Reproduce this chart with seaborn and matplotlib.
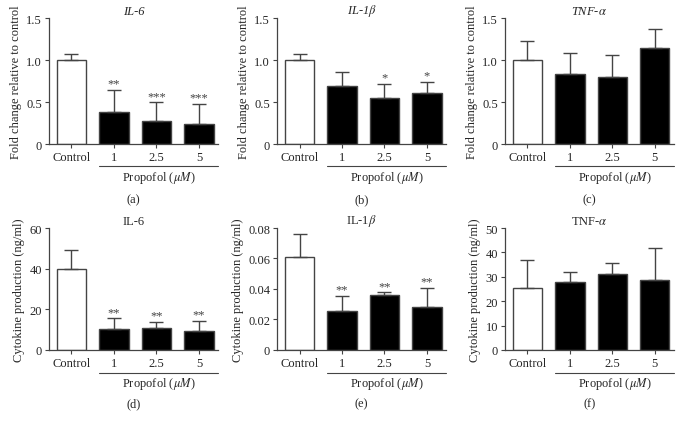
import matplotlib
matplotlib.use("Agg")
import matplotlib.pyplot as plt
import matplotlib.transforms as mtransforms
import numpy as np
import pandas as pd
import seaborn as sns

groups = ["Control", "1", "2.5", "5"]

# top row: fold change relative to control
il6_fold = [1.0, 0.377, 0.27, 0.242]
il6_fold_top = [1.071, 0.643, 0.496, 0.476]
il6_fold_stars = ["", "**", "***", "***"]

il1b_fold = [1.0, 0.686, 0.545, 0.603]
il1b_fold_top = [1.07, 0.853, 0.718, 0.742]
il1b_fold_stars = ["", "", "*", "*"]

tnf_fold = [1.0, 0.833, 0.794, 1.139]
tnf_fold_top = [1.23, 1.083, 1.06, 1.369]
tnf_fold_stars = ["", "", "", ""]

# bottom row: cytokine production (ng/ml)
il6_prod = [39.7, 10.4, 10.7, 9.4]
il6_prod_top = [49.2, 15.6, 13.9, 14.4]
il6_prod_stars = ["", "**", "**", "**"]

il1b_prod = [0.0611, 0.0255, 0.0362, 0.0285]
il1b_prod_top = [0.0758, 0.0354, 0.0378, 0.0406]
il1b_prod_stars = ["", "**", "**", "**"]

tnf_prod = [25.3, 27.9, 31.3, 28.8]
tnf_prod_top = [36.8, 32.1, 35.7, 41.6]
tnf_prod_stars = ["", "", "", ""]

sns.set_style("ticks")
plt.rcParams["font.family"] = ["Liberation Serif", "DejaVu Serif"]
plt.rcParams["mathtext.fontset"] = "stix"

GREY = "#444444"


def panel(ax, vals, tops, stars, title, ylabel, ymax, yticks, yticklabels,
          letter, lab_off, italic):
    df = pd.DataFrame({"group": groups, "value": vals})
    sns.barplot(data=df, x="group", y="value", hue="group",
                palette=["white", "black", "black", "black"], legend=False,
                edgecolor=GREY, linewidth=1.0, width=0.69, ax=ax)
    x = np.arange(len(groups))
    up = np.array(tops) - np.array(vals)
    ax.errorbar(x, vals, yerr=[np.zeros(len(vals)), up], fmt="none",
                ecolor=GREY, elinewidth=1.0, capsize=5, capthick=1.0)
    for xi, t, s in zip(x, tops, stars):
        if s:
            ax.text(xi, t + ymax * 0.003, s, ha="center", va="bottom",
                    fontsize=9, color=GREY)
    ax.set_xlim(-0.53, 3.45)
    ax.set_ylim(0, ymax)
    ax.set_yticks(yticks)
    ax.set_yticklabels(yticklabels)
    ax.set_xlabel("")
    ax.set_ylabel(ylabel, fontsize=9, labelpad=3)
    ax.set_title(title, fontsize=9, pad=3,
                 fontstyle="italic" if italic else "normal")
    ax.tick_params(labelsize=9, length=3, width=0.8, color=GREY, pad=2)
    for side in ["left", "bottom"]:
        ax.spines[side].set_color(GREY)
        ax.spines[side].set_linewidth(0.9)
    sns.despine(ax=ax)
    tr = mtransforms.blended_transform_factory(ax.transData, ax.transAxes)
    ax.plot([0.65, 3.45], [lab_off[0], lab_off[0]], color=GREY, lw=0.8,
            transform=tr, clip_on=False)
    ax.text(2.05, lab_off[1], "Propofol ($\\mu M$)", ha="center", va="center",
            fontsize=9, transform=tr)
    ax.text(0.5, lab_off[2], letter, ha="center", va="center", fontsize=9,
            transform=ax.transAxes)


fig = plt.figure(figsize=(6.86, 4.27), dpi=100)
lefts = [0.0714, 0.4038, 0.736]
w = 0.2464
top_axes = [fig.add_axes([l, 0.6604, w, 0.2951]) for l in lefts]
bot_axes = [fig.add_axes([l, 0.178, w, 0.2857]) for l in lefts]

fold_label = "Fold change relative to control"
prod_label = "Cytokine production (ng/ml)"
t_off = (-0.175, -0.26, -0.44)
b_off = (-0.19, -0.27, -0.44)
ft = [0, 0.5, 1.0, 1.5]
fl = ["0", "0.5", "1.0", "1.5"]

panel(top_axes[0], il6_fold, il6_fold_top, il6_fold_stars, "IL-6",
      fold_label, 1.5, ft, fl, "(a)", t_off, True)
panel(top_axes[1], il1b_fold, il1b_fold_top, il1b_fold_stars, "IL-1$\\beta$",
      fold_label, 1.5, ft, fl, "(b)", t_off, True)
panel(top_axes[2], tnf_fold, tnf_fold_top, tnf_fold_stars, "TNF-$\\alpha$",
      fold_label, 1.5, ft, fl, "(c)", t_off, True)

panel(bot_axes[0], il6_prod, il6_prod_top, il6_prod_stars, "IL-6",
      prod_label, 60, [0, 20, 40, 60], ["0", "20", "40", "60"], "(d)", b_off, False)
panel(bot_axes[1], il1b_prod, il1b_prod_top, il1b_prod_stars, "IL-1$\\beta$",
      prod_label, 0.08, [0, 0.02, 0.04, 0.06, 0.08],
      ["0", "0.02", "0.04", "0.06", "0.08"], "(e)", b_off, False)
panel(bot_axes[2], tnf_prod, tnf_prod_top, tnf_prod_stars, "TNF-$\\alpha$",
      prod_label, 50, [0, 10, 20, 30, 40, 50],
      ["0", "10", "20", "30", "40", "50"], "(f)", b_off, False)

fig.savefig("out.png", dpi=100)
